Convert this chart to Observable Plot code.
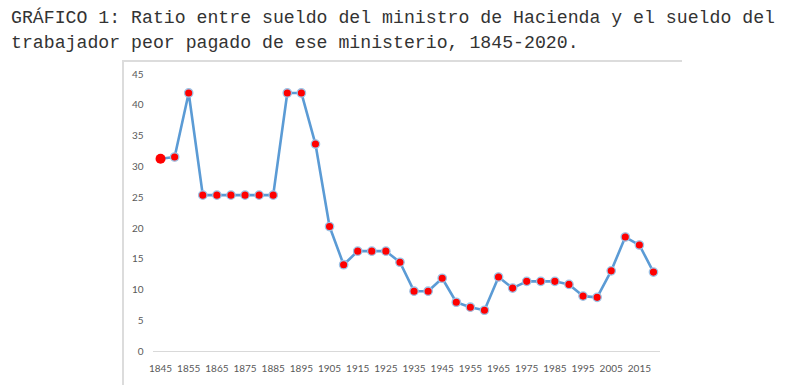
<!DOCTYPE html>
<html><head><meta charset="utf-8">
<script src="https://cdn.jsdelivr.net/npm/d3@7"></script>
<script src="https://cdn.jsdelivr.net/npm/@observablehq/plot@0.6"></script>
<style>
body{margin:0;background:#fff;width:793px;height:385px;overflow:hidden;position:relative}
#title{position:absolute;left:11px;top:6px;font-family:"Liberation Mono",monospace;font-size:18.2px;line-height:25px;color:#333;white-space:pre}
#frame{position:absolute;left:122px;top:60px;width:558px;height:340px;border-left:2px solid #dcdcdc;border-top:2px solid #dcdcdc}
#chart{position:absolute;left:0;top:61px}
</style></head><body>
<div id="title">GRÁFICO 1: Ratio entre sueldo del ministro de Hacienda y el sueldo del
trabajador peor pagado de ese ministerio, 1845-2020.</div>
<div id="frame"></div>
<div id="chart"></div>
<script>
const years = [1845,1850,1855,1860,1865,1870,1875,1880,1885,1890,1895,1900,1905,1910,1915,1920,1925,1930,1935,1940,1945,1950,1955,1960,1965,1970,1975,1980,1985,1990,1995,2000,2005,2010,2015,2020];
const ratio = [31.3,31.6,42.0,25.4,25.4,25.4,25.4,25.4,25.4,42.0,42.0,33.7,20.3,14.1,16.3,16.3,16.3,14.5,9.8,9.8,11.9,8.0,7.2,6.7,12.1,10.3,11.4,11.4,11.4,10.9,9.0,8.8,13.1,18.6,17.3,12.9];
const xTickLabels = [1845,1855,1865,1875,1885,1895,1905,1915,1925,1935,1945,1955,1965,1975,1985,1995,2005,2015];
const yTickLabels = [0,5,10,15,20,25,30,35,40,45];

const data = years.map((year, i) => ({year, ratio: ratio[i]}));

const chart = Plot.plot({
  width: 793,
  height: 324,
  marginLeft: 153,
  marginRight: 133,
  marginTop: 13,
  marginBottom: 34,
  style: {fontFamily: "Lato, 'Open Sans', sans-serif", fontSize: "10px", color: "#595959", background: "transparent"},
  x: {type: "linear", domain: [1842.5, 2022.5]},
  y: {domain: [0, 45]},
  marks: [
    Plot.ruleY([0], {stroke: "#d9d9d9", strokeWidth: 1}),
    Plot.axisY({ticks: yTickLabels, tickSize: 0, tickPadding: 10, tickFormat: d => String(d), label: null}),
    Plot.axisX({ticks: xTickLabels, tickSize: 0, tickPadding: 13, tickFormat: d => String(d), label: null}),
    Plot.line(data, {x: "year", y: "ratio", stroke: "#5b9bd5", strokeWidth: 2.6}),
    Plot.dot(data.slice(1), {x: "year", y: "ratio", r: 4.2, fill: "#ff0000", stroke: "#9dc3e6", strokeWidth: 1.3}),
    Plot.dot(data.slice(0, 1), {x: "year", y: "ratio", r: 5, fill: "#ff0000"})
  ]
});
document.getElementById("chart").appendChild(chart);
</script>
</body></html>
